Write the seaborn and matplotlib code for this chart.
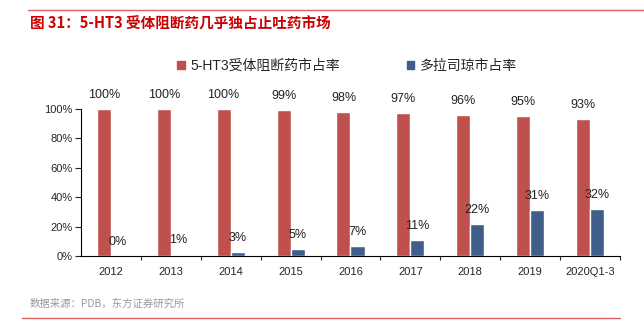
import matplotlib
matplotlib.use("Agg")
import matplotlib.pyplot as plt
import seaborn as sns
import pandas as pd
from matplotlib.lines import Line2D
from matplotlib.patches import Patch

categories = ["2012", "2013", "2014", "2015", "2016", "2017", "2018", "2019", "2020Q1-3"]
ht3_share = [100, 100, 100, 99, 98, 97, 96, 95, 93]
dolasetron_share = [0, 1, 3, 5, 7, 11, 22, 31, 32]
series_names = ["5-HT3受体阻断药市占率", "多拉司琼市占率"]
yticks = [0, 20, 40, 60, 80, 100]

RED = "#C0504D"
BLUE = "#3F5F8A"

df = pd.DataFrame({
    "year": categories * 2,
    "series": [series_names[0]] * len(categories) + [series_names[1]] * len(categories),
    "value": ht3_share + dolasetron_share,
})

sns.set_theme(style="white")
plt.rcParams["font.family"] = ["Liberation Sans", "Noto Sans CJK SC", "DejaVu Sans"]

fig = plt.figure(figsize=(6.44, 3.25), dpi=100)
ax = fig.add_axes([81 / 644, 1 - 256 / 325, 539 / 644, 147 / 325])

sns.barplot(data=df, x="year", y="value", hue="series", order=categories,
            hue_order=series_names, palette=[RED, BLUE], width=0.47,
            saturation=1, legend=False, ax=ax)

for container in ax.containers:
    for bar in container:
        h = bar.get_height()
        ax.text(bar.get_x() + bar.get_width() / 2, h + 5.5, f"{h:.0f}%",
                ha="center", va="bottom", fontsize=9, color="#222222", clip_on=False)

ax.set_ylim(0, 100)
ax.set_xlim(-0.5, len(categories) - 0.5)
ax.set_yticks(yticks)
ax.set_yticklabels([f"{t}%" for t in yticks], fontsize=8)
ax.set_xticks(range(len(categories)))
ax.set_xticklabels(categories, fontsize=8)
ax.tick_params(axis="x", length=0, pad=8)
ax.tick_params(axis="y", length=4, direction="out", left=True, width=0.8, pad=2)
# minor ticks between categories
ax.set_xticks([i + 0.5 for i in range(len(categories))], minor=True)
ax.tick_params(axis="x", which="minor", length=3, bottom=True, direction="out", width=0.8)
ax.set_xlabel("")
ax.set_ylabel("")
for s in ["top", "right"]:
    ax.spines[s].set_visible(False)
for s in ["left", "bottom"]:
    ax.spines[s].set_color("black")
    ax.spines[s].set_linewidth(0.8)

handles = [Patch(color=RED), Patch(color=BLUE)]
fig.legend(handles, series_names, loc="center", bbox_to_anchor=(347 / 644, 1 - 66 / 325),
           ncol=2, frameon=False, fontsize=10, handlelength=0.55, handleheight=0.55,
           columnspacing=4.8, handletextpad=0.4)

fig.text(30 / 644, 1 - 24 / 325, "图 31：5-HT3 受体阻断药几乎独占止吐药市场",
         color="#CC0000", fontsize=10.5, fontweight="bold", va="center", ha="left",
         family=["Noto Sans CJK SC", "DejaVu Sans"])
fig.text(30 / 644, 1 - 304 / 325, "数据来源：PDB，东方证券研究所", color="#999999",
         fontsize=7.5, va="center", ha="left", family=["Noto Sans CJK SC", "DejaVu Sans"])

fig.add_artist(Line2D([28 / 644, 1], [1 - 10 / 325] * 2, color="#E06060", lw=1))
fig.add_artist(Line2D([22 / 644, 620 / 644], [1 - 318 / 325] * 2, color="#E06060", lw=1))

fig.savefig("out.png", dpi=100)
